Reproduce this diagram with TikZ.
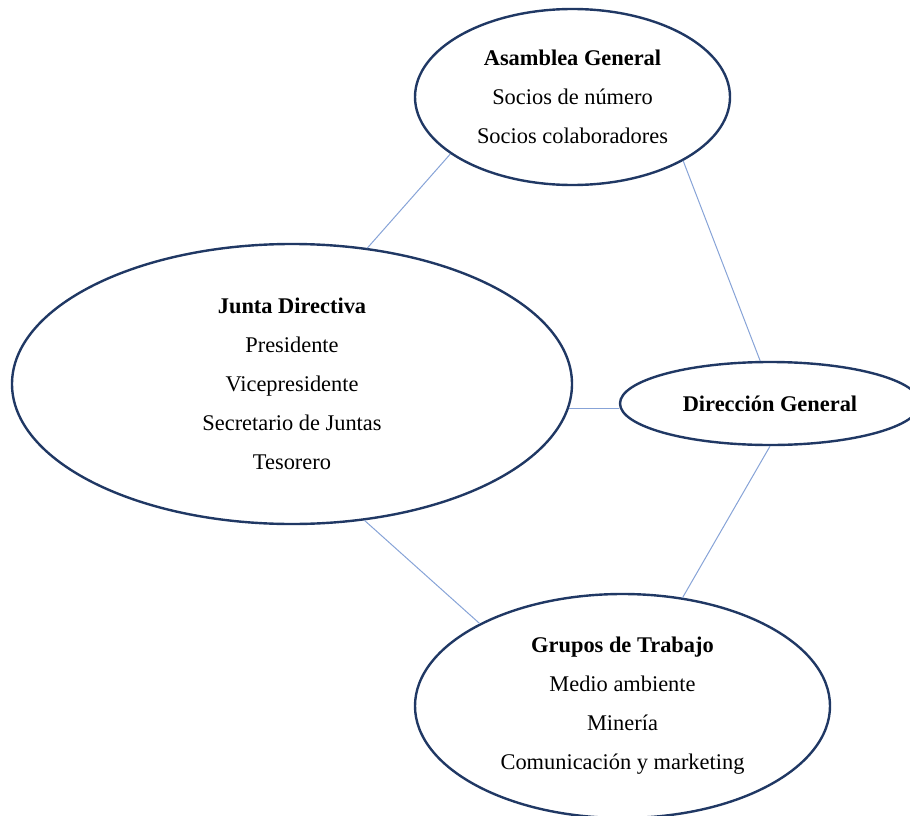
\documentclass[tikz,border=0pt]{standalone}
\usepackage{fontspec}
\setmainfont{Liberation Serif}
\usetikzlibrary{shapes.geometric}
\definecolor{rim}{RGB}{32,56,100}
\definecolor{link}{RGB}{135,163,215}
\begin{document}
\begin{tikzpicture}[x=1pt,y=-1pt,
  oval/.style={ellipse, draw=rim, line width=2.4pt, inner sep=0pt, align=center,
    font=\fontsize{22.4}{39}\selectfont},
  conn/.style={draw=link, line width=1pt}]
\useasboundingbox (0,0) rectangle (910,816);
\node[oval, minimum width=315pt, minimum height=176pt] (as) at (572.5,97)
  {\textbf{Asamblea General}\\Socios de número\\Socios colaboradores};
\node[oval, minimum width=560pt, minimum height=280pt] (jd) at (292,384)
  {\textbf{Junta Directiva}\\Presidente\\Vicepresidente\\Secretario de Juntas\\Tesorero};
\node[oval, minimum width=300pt, minimum height=83pt] (dg) at (770,403.5)
  {\textbf{Dirección General}};
\node[oval, minimum width=415pt, minimum height=224pt] (gt) at (622.5,706)
  {\textbf{Grupos de Trabajo}\\Medio ambiente\\Minería\\Comunicación y marketing};
\draw[conn] (as.205) -- (jd.61.3);
\draw[conn] (as.330) -- (dg.103.5);
\draw[conn] (jd.355) -- (jd.355 -| dg.west);
\draw[conn] (dg.270) -- (gt.61.6);
\draw[conn] (jd.298.2) -- (gt.150.6);
\end{tikzpicture}
\end{document}
